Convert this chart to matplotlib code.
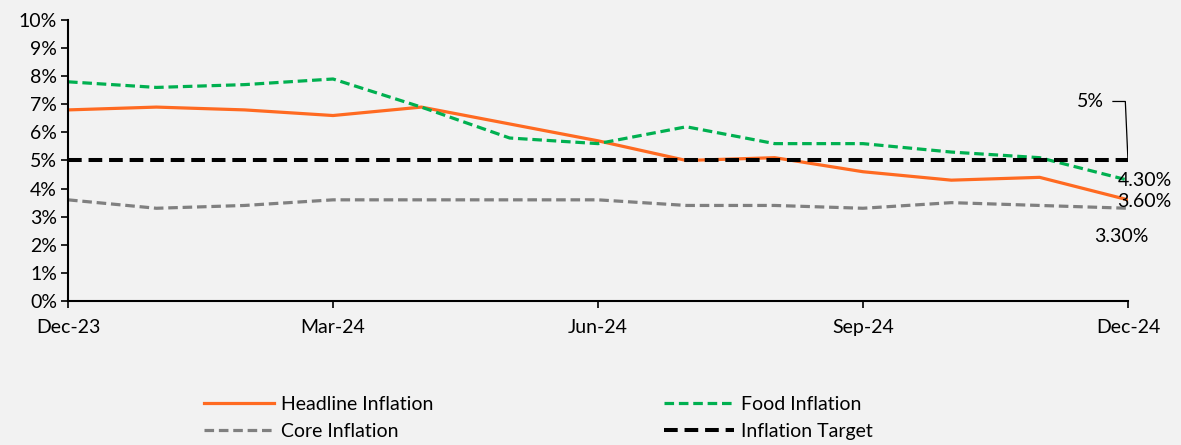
"""Inflation trends Dec-23 to Dec-24."""

import matplotlib.pyplot as plt

months = ["Dec-23", "Jan-24", "Feb-24", "Mar-24", "Apr-24", "May-24", "Jun-24",
          "Jul-24", "Aug-24", "Sep-24", "Oct-24", "Nov-24", "Dec-24"]
headline = [6.8, 6.9, 6.8, 6.6, 6.9, 6.3, 5.7, 5.0, 5.1, 4.6, 4.3, 4.4, 3.6]
food = [7.8, 7.6, 7.7, 7.9, 6.9, 5.8, 5.6, 6.2, 5.6, 5.6, 5.3, 5.1, 4.3]
core = [3.6, 3.3, 3.4, 3.6, 3.6, 3.6, 3.6, 3.4, 3.4, 3.3, 3.5, 3.4, 3.3]
target = [5.0] * len(months)
tick_months = ["Dec-23", "Mar-24", "Jun-24", "Sep-24", "Dec-24"]

BG = "#f2f2f2"
FS = 14
plt.rcParams["font.family"] = ["Lato", "DejaVu Sans"]

fig = plt.figure(figsize=(11.81, 4.45), dpi=100, facecolor=BG)
ax = fig.add_axes([0.0576, 0.3236, 0.8975, 0.6315], facecolor=BG)

x = list(range(len(months)))
ax.plot(x, headline, color="#ff6a21", lw=2.3, label="Headline Inflation")
ax.plot(x, core, color="#808080", lw=2.3, dashes=(3, 1.5), label="Core Inflation")
ax.plot(x, food, color="#00b050", lw=2.3, dashes=(3, 1.5), label="Food Inflation")
ax.plot(x, target, color="black", lw=2.9, dashes=(3.4, 1.7), label="Inflation Target")

ax.set_xlim(0, len(months) - 1)
ax.set_ylim(0, 10)
ax.set_yticks(range(0, 11))
ax.set_yticklabels([f"{v}%" for v in range(0, 11)])
ax.set_xticks([months.index(m) for m in tick_months])
ax.set_xticklabels(tick_months)
ax.tick_params(axis="both", labelsize=FS, colors="black", length=5, width=1.2)
ax.tick_params(axis="x", pad=8)
ax.tick_params(axis="y", pad=3)
for side in ("top", "right"):
    ax.spines[side].set_visible(False)
for side in ("left", "bottom"):
    ax.spines[side].set_linewidth(1.5)

last = len(months) - 1
ax.text(last - 0.12, food[-1], f"{food[-1]:.2f}%", fontsize=FS, va="center", ha="left")
ax.text(last - 0.12, headline[-1] - 0.05, f"{headline[-1]:.2f}%", fontsize=FS, va="center", ha="left")
ax.text(last - 0.08, core[-1] - 1.0, f"{core[-1]:.2f}%", fontsize=FS, va="center", ha="center")
ax.plot([last - 0.17, last - 0.03, last], [7.1, 7.1, 5.0], color="black", lw=0.9)
ax.text(last - 0.27, 7.1, f"{target[-1]:.0f}%", fontsize=FS, va="center", ha="right")

fig.legend(loc="center", bbox_to_anchor=(0.456, 0.061), ncol=2, frameon=False,
           fontsize=FS, handlelength=3.6, columnspacing=11.85, labelspacing=0.55,
           handletextpad=0.35)

fig.savefig("out.png", dpi=100, facecolor=BG)
